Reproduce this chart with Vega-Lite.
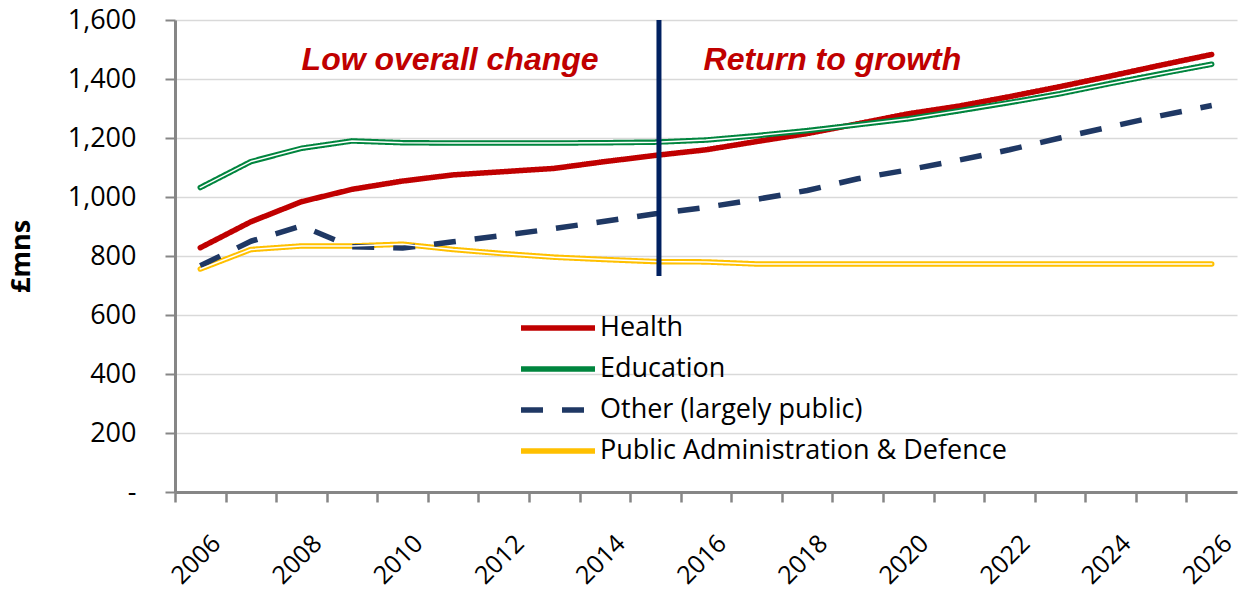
{
  "$schema": "https://vega.github.io/schema/vega-lite/v6.json",
  "width": 1062,
  "height": 472,
  "autosize": "none",
  "padding": {"left": 175, "top": 20, "right": 2, "bottom": 100},
  "background": "white",
  "config": {
    "view": {"stroke": null},
    "font": "Open Sans",
    "legend": {
      "orient": "none",
      "legendX": 355,
      "legendY": 280,
      "symbolType": "M-1.48,0H1.48",
      "symbolSize": 2500,
      "labelFont": "Open Sans",
      "labelFontSize": 27,
      "labelColor": "black",
      "labelOffset": 14,
      "rowPadding": 0,
      "padding": 0,
      "labelLimit": 700
    }
  },
  "datasets": {
    "spend": [
      {"year": 2006, "Health": 828, "Education": 1032, "Other (largely public)": 767, "Public Administration & Defence": 756},
      {"year": 2007, "Health": 916, "Education": 1120, "Other (largely public)": 850, "Public Administration & Defence": 822},
      {"year": 2008, "Health": 984, "Education": 1165, "Other (largely public)": 902, "Public Administration & Defence": 834},
      {"year": 2009, "Health": 1026, "Education": 1190, "Other (largely public)": 831, "Public Administration & Defence": 834},
      {"year": 2010, "Health": 1054, "Education": 1184, "Other (largely public)": 827, "Public Administration & Defence": 840},
      {"year": 2011, "Health": 1075, "Education": 1183, "Other (largely public)": 848, "Public Administration & Defence": 822},
      {"year": 2012, "Health": 1086, "Education": 1183, "Other (largely public)": 870, "Public Administration & Defence": 808},
      {"year": 2013, "Health": 1097, "Education": 1183, "Other (largely public)": 893, "Public Administration & Defence": 796},
      {"year": 2014, "Health": 1120, "Education": 1184, "Other (largely public)": 918, "Public Administration & Defence": 788},
      {"year": 2015, "Health": 1141, "Education": 1186, "Other (largely public)": 943, "Public Administration & Defence": 781},
      {"year": 2016, "Health": 1160, "Education": 1193, "Other (largely public)": 965, "Public Administration & Defence": 780},
      {"year": 2017, "Health": 1188, "Education": 1208, "Other (largely public)": 992, "Public Administration & Defence": 773},
      {"year": 2018, "Health": 1215, "Education": 1225, "Other (largely public)": 1022, "Public Administration & Defence": 773},
      {"year": 2019, "Health": 1248, "Education": 1245, "Other (largely public)": 1062, "Public Administration & Defence": 773},
      {"year": 2020, "Health": 1282, "Education": 1265, "Other (largely public)": 1092, "Public Administration & Defence": 773},
      {"year": 2021, "Health": 1308, "Education": 1292, "Other (largely public)": 1125, "Public Administration & Defence": 773},
      {"year": 2022, "Health": 1340, "Education": 1320, "Other (largely public)": 1160, "Public Administration & Defence": 773},
      {"year": 2023, "Health": 1374, "Education": 1350, "Other (largely public)": 1200, "Public Administration & Defence": 773},
      {"year": 2024, "Health": 1410, "Education": 1385, "Other (largely public)": 1238, "Public Administration & Defence": 773},
      {"year": 2025, "Health": 1447, "Education": 1418, "Other (largely public)": 1276, "Public Administration & Defence": 773},
      {"year": 2026, "Health": 1483, "Education": 1450, "Other (largely public)": 1310, "Public Administration & Defence": 773}
    ],
    "divider": [{"year": 2015.07, "from": 732, "to": 1600}],
    "notes": [
      {"year": 2010.94, "value": 1430, "label": "Low overall change"},
      {"year": 2018.5, "value": 1430, "label": "Return to growth"}
    ]
  },
  "layer": [
    {
      "data": {"name": "spend"},
      "transform": [
        {"fold": ["Health", "Education", "Other (largely public)", "Public Administration & Defence"], "as": ["series", "value"]},
        {"filter": "datum.series != 'Other (largely public)'"}
      ],
      "mark": {"type": "line", "strokeCap": "round", "strokeJoin": "round"},
      "encoding": {
        "x": {
          "field": "year", "type": "quantitative",
          "scale": {"domain": [2005.5, 2026.5], "nice": false, "zero": false},
          "axis": {
            "title": null,
            "values": [2006, 2007, 2008, 2009, 2010, 2011, 2012, 2013, 2014, 2015, 2016, 2017, 2018, 2019, 2020, 2021, 2022, 2023, 2024, 2025, 2026, 2027],
            "format": "d",
            "labelExpr": "datum.value % 2 == 0 && datum.value < 2027 ? datum.label : ''",
            "grid": false,
            "tickOffset": -25.3,
            "labelOffset": 41,
            "labelAngle": -45,
            "labelAlign": "right",
            "labelBaseline": "middle",
            "labelFont": "Open Sans",
            "labelFontSize": 25,
            "labelColor": "black",
            "labelPadding": 37,
            "labelOverlap": false,
            "labelFlush": false,
            "domainColor": "#868686",
            "domainWidth": 3,
            "tickColor": "#868686",
            "tickWidth": 2.5,
            "tickSize": 10
          }
        },
        "y": {
          "field": "value", "type": "quantitative",
          "scale": {"domain": [0, 1600], "nice": false},
          "axis": {
            "title": "£mns",
            "titleFont": "Open Sans",
            "titleFontSize": 27,
            "titleFontWeight": "bold",
            "titleColor": "black",
            "titlePadding": 32,
            "values": [0, 200, 400, 600, 800, 1000, 1200, 1400, 1600],
            "labelExpr": "datum.value == 0 ? '-\u00a0\u00a0' : format(datum.value, ',')",
            "labelFont": "Open Sans",
            "labelFontSize": 27,
            "labelColor": "black",
            "labelPadding": 29,
            "grid": true,
            "gridColor": "#D9D9D9",
            "gridWidth": 1.5,
            "domainColor": "#868686",
            "domainWidth": 3,
            "tickColor": "#868686",
            "tickWidth": 2,
            "tickSize": 10
          }
        },
        "color": {
          "field": "series", "type": "nominal", "title": null,
          "scale": {"domain": ["Health", "Education", "Other (largely public)", "Public Administration & Defence"], "range": ["#C00000", "#00853E", "#1F3864", "#FFC000"]}
        },
        "strokeDash": {
          "field": "series", "type": "nominal", "title": null,
          "scale": {"domain": ["Health", "Education", "Other (largely public)", "Public Administration & Defence"], "range": [[1, 0], [1, 0], [22, 19], [1, 0]]}
        },
        "strokeWidth": {
          "field": "series", "type": "ordinal", "title": null,
          "scale": {"domain": ["Health", "Education", "Other (largely public)", "Public Administration & Defence"], "range": [5.5, 5.5, 5, 6]}
        }
      }
    },
    {
      "data": {"name": "spend"},
      "transform": [
        {"fold": ["Health", "Education", "Other (largely public)", "Public Administration & Defence"], "as": ["series", "value"]},
        {"filter": "datum.series == 'Other (largely public)'"}
      ],
      "mark": {"type": "line", "strokeCap": "butt", "strokeJoin": "round"},
      "encoding": {
        "x": {"field": "year", "type": "quantitative"},
        "y": {"field": "value", "type": "quantitative"},
        "color": {"field": "series", "type": "nominal", "title": null},
        "strokeDash": {"field": "series", "type": "nominal", "title": null},
        "strokeWidth": {"field": "series", "type": "ordinal", "title": null}
      }
    },
    {
      "data": {"name": "spend"},
      "transform": [
        {"fold": ["Education", "Public Administration & Defence"], "as": ["series", "value"]}
      ],
      "mark": {"type": "line", "color": "white", "strokeWidth": 1.5, "strokeCap": "round", "strokeJoin": "round"},
      "encoding": {
        "x": {"field": "year", "type": "quantitative"},
        "y": {"field": "value", "type": "quantitative"},
        "detail": {"field": "series", "type": "nominal"}
      }
    },
    {
      "data": {"name": "divider"},
      "mark": {"type": "rule", "color": "#002060", "strokeWidth": 5},
      "encoding": {
        "x": {"field": "year", "type": "quantitative"},
        "y": {"field": "from", "type": "quantitative"},
        "y2": {"field": "to"}
      }
    },
    {
      "data": {"name": "notes"},
      "mark": {"type": "text", "font": "Liberation Sans", "fontSize": 32, "fontWeight": "bold", "fontStyle": "italic", "color": "#C00000", "align": "center", "baseline": "alphabetic"},
      "encoding": {
        "x": {"field": "year", "type": "quantitative"},
        "y": {"field": "value", "type": "quantitative"},
        "text": {"field": "label"}
      }
    }
  ]
}
